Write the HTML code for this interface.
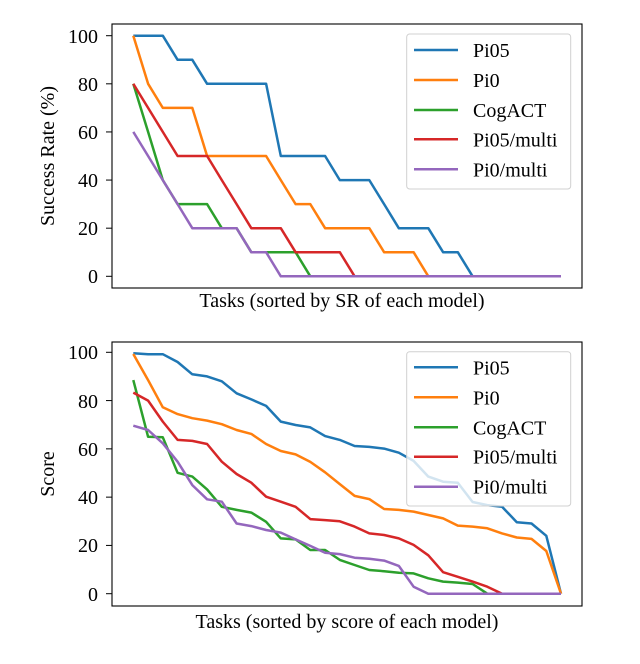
<!DOCTYPE html>
<html><head><meta charset="utf-8"><style>
html,body{margin:0;padding:0;background:#fff;}
svg{display:block;font-family:"Liberation Serif",serif;}
</style></head><body>
<svg id="s" width="640" height="664" viewBox="0 0 640 664" xmlns="http://www.w3.org/2000/svg">
<rect width="640" height="664" fill="#fff"/>
<g id="p1"></g>
<g id="p2"></g>
<rect x="112" y="24" width="470" height="264" fill="none" stroke="#000" stroke-width="1.1"/>
<g font-size="20" text-anchor="end">
<text x="98" y="43">100</text><text x="98" y="91">80</text><text x="98" y="139">60</text><text x="98" y="187">40</text><text x="98" y="235">20</text><text x="98" y="283">0</text>
</g>
<text transform="translate(54,156) rotate(-90)" font-size="20" text-anchor="middle">Success Rate (%)</text>
<text x="342" y="307" font-size="20" text-anchor="middle">Tasks (sorted by SR of each model)</text>
<rect x="112" y="342" width="470" height="264" fill="none" stroke="#000" stroke-width="1.1"/>
<g font-size="20" text-anchor="end">
<text x="98" y="359">100</text><text x="98" y="408">80</text><text x="98" y="456">60</text><text x="98" y="504">40</text><text x="98" y="552">20</text><text x="98" y="601">0</text>
</g>
<text transform="translate(54,474) rotate(-90)" font-size="20" text-anchor="middle">Score</text>
<text x="347" y="628" font-size="20" text-anchor="middle">Tasks (sorted by score of each model)</text>
<g id="leg1"></g><g id="leg2"></g>
</svg>
<script>
var C=["#1f77b4","#ff7f0e","#2ca02c","#d62728","#9467bd"];
var N=["Pi05","Pi0","CogACT","Pi05/multi","Pi0/multi"];
function pad(a){while(a.length<30)a.push(0);return a;}
var dTop=[
pad([100,100,100,90,90,80,80,80,80,80,50,50,50,50,40,40,40,30,20,20,20,10,10,0]),
pad([100,80,70,70,70,50,50,50,50,50,40,30,30,20,20,20,20,10,10,10,0]),
pad([80,60,40,30,30,30,20,20,10,10,10,10,0]),
pad([80,70,60,50,50,50,40,30,20,20,20,10,10,10,10,0]),
pad([60,50,40,30,20,20,20,20,10,10,0])];
var dBot=[
[99.6,99.2,99.2,96,90.9,90,88,83,80.5,77.8,71.3,69.9,68.9,65.3,63.7,61.2,60.8,60.1,58.4,55,48.5,46.4,46,38,36.7,36,29.6,29.1,24,0],
[99.3,88.5,77.2,74.4,72.7,71.7,70.2,67.8,66.2,62,59.1,57.7,54.6,50.3,45.4,40.5,39.2,35.1,34.7,34,32.6,31.2,28.2,27.8,27.1,25,23.3,22.7,17.7,0],
pad([88.5,65,64.8,50.1,48.5,43.2,36,34.7,33.6,29.8,22.9,22.5,18.1,18.1,14,11.9,9.8,9.3,8.7,8.4,6.4,5,4.6,4,0]),
pad([83.3,80,71.3,63.7,63.3,62,54.7,49.6,46,40.2,38.1,36,30.9,30.5,30,27.8,25,24.3,22.9,20.2,15.9,8.9,7,5,2.9,0]),
pad([69.6,67.8,62.3,54.7,45,39.1,38.1,29.1,28,26.4,25.3,22.5,19.8,17,16.4,14.9,14.5,13.7,11.5,2.9,0])];
var NS="http://www.w3.org/2000/svg";
function el(t,a,p){var e=document.createElementNS(NS,t);for(var k in a)e.setAttribute(k,a[k]);p.appendChild(e);return e;}
function plot(g,data,y100,y0){
 var G=document.getElementById(g);
 for(var v=0;v<=100;v+=20){var y=y0+(y100-y0)*v/100;el("line",{x1:106,x2:112,y1:y,y2:y,stroke:"#000","stroke-width":1},G);}
 data.forEach(function(d,s){var pts=d.map(function(v,i){return (133.3+14.75*i).toFixed(1)+","+(y0+(y100-y0)*v/100).toFixed(1);}).join(" ");
 el("polyline",{points:pts,fill:"none",stroke:C[s],"stroke-width":2.5,"stroke-linejoin":"round"},G);});
}
plot("p1",dTop,35.7,276.3);
plot("p2",dBot,352.3,593.7);
function leg(g,x0,y0,y1,rows){
 var G=document.getElementById(g);
 el("rect",{x:x0,y:y0,width:164,height:y1-y0,rx:3,fill:"rgba(255,255,255,0.8)",stroke:"#d0d0d0","stroke-width":1},G);
 rows.forEach(function(y,i){el("line",{x1:414,x2:458,y1:y,y2:y,stroke:C[i],"stroke-width":2.5},G);
 var t=el("text",{x:473,y:y+7,"font-size":"20"},G);t.textContent=N[i];});
}
leg("leg1",406.7,34,189,[50,80,110,139.3,169.3]);
leg("leg2",406.7,351.7,506,[367.3,397.3,427.3,456.7,486.7]);
</script>
</body></html>
